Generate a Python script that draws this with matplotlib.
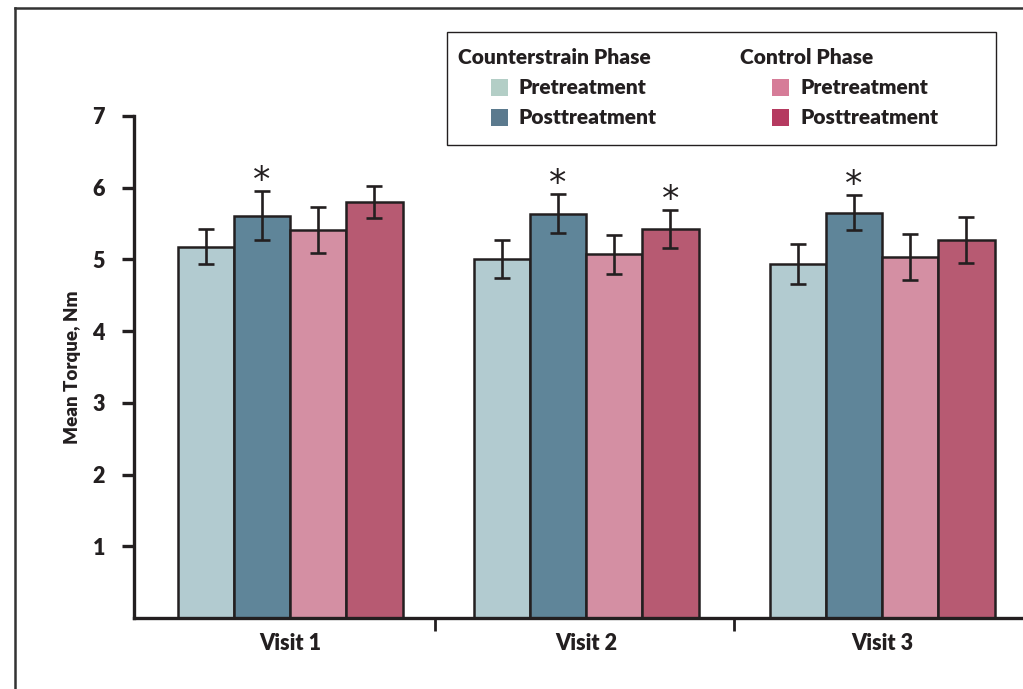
import numpy as np
import matplotlib
matplotlib.use("Agg")
import matplotlib.pyplot as plt
from matplotlib.patches import Rectangle
from matplotlib.lines import Line2D

plt.rcParams['font.family'] = ['Lato', 'DejaVu Sans']

visits = ["Visit 1", "Visit 2", "Visit 3"]
series = ["CS Pretreatment", "CS Posttreatment", "Control Pretreatment", "Control Posttreatment"]

cs_pre = [5.18, 5.01, 4.94]
cs_post = [5.61, 5.64, 5.65]
ctl_pre = [5.41, 5.07, 5.03]
ctl_post = [5.80, 5.43, 5.27]

cs_pre_err = [0.25, 0.265, 0.28]
cs_post_err = [0.345, 0.27, 0.245]
ctl_pre_err = [0.32, 0.27, 0.32]
ctl_post_err = [0.225, 0.265, 0.315]

# which bars carry a significance star
cs_post_sig = [True, True, True]
ctl_post_sig = [False, True, False]

bar_colors = ["#B2CBD0", "#5F8599", "#D48FA3", "#B75A72"]
key_colors = ["#B3CEC6", "#5B7A8E", "#D67C98", "#B53A60"]
ink = "#231F20"

W, H = 1023, 689
fig = plt.figure(figsize=(W / 100, H / 100), dpi=100)


def fx(px):
    return px / W


def fy(py):
    return 1 - py / H


ax = fig.add_axes([fx(134), fy(618), fx(1023) - fx(134), fy(116) - fy(618)])

x = np.arange(len(visits))
width = 0.19
means = [cs_pre, cs_post, ctl_pre, ctl_post]
errs = [cs_pre_err, cs_post_err, ctl_pre_err, ctl_post_err]
sigs = [None, cs_post_sig, None, ctl_post_sig]

for i, (m, e, c) in enumerate(zip(means, errs, bar_colors)):
    pos = x + (i - 1.5) * width
    ax.bar(pos, m, width, color=c, edgecolor=ink, linewidth=1.8, zorder=2)
    ax.errorbar(pos, m, yerr=e, fmt='none', ecolor=ink, elinewidth=1.9,
                capsize=5.8, capthick=1.9, zorder=3)
    if sigs[i] is not None:
        for p, v, err, s in zip(pos, m, e, sigs[i]):
            if s:
                ax.annotate("*", (p, v + err), xytext=(0, -5), textcoords="offset points",
                            ha="center", va="bottom", fontsize=25, color=ink,
                            family="DejaVu Sans")

ax.set_xlim(-0.527, 2.476)
ax.set_ylim(0, 7)
ax.set_yticks([1, 2, 3, 4, 5, 6, 7])
ax.set_xticks(x)
ax.set_xticklabels(visits, fontsize=15.5, fontweight="heavy", color=ink)
ax.set_xticks([0.49, 1.5], minor=True)
ax.tick_params(axis="x", which="major", length=0, pad=11)
ax.tick_params(axis="x", which="minor", length=9, width=2, direction="out", color=ink)
ax.tick_params(axis="y", length=9, width=2.4, color=ink, labelsize=15.5, pad=12, labelcolor=ink)
for lab in ax.get_yticklabels():
    lab.set_fontweight("heavy")
ax.set_ylabel("Mean Torque, Nm", fontsize=13.5, fontweight="heavy", color=ink, labelpad=8)

for side in ["top", "right"]:
    ax.spines[side].set_visible(False)
for side in ["left", "bottom"]:
    ax.spines[side].set_linewidth(2.4)
    ax.spines[side].set_color(ink)
ax.spines["left"].set_bounds(0, 7)

# outer frame lines
fig.add_artist(Line2D([fx(15), fx(1023)], [fy(8), fy(8)], color="#333333", lw=1.8))
fig.add_artist(Line2D([fx(15), fx(15)], [fy(8), fy(689)], color="#333333", lw=1.8))

# key box
fig.add_artist(Rectangle((fx(447), fy(145)), fx(996) - fx(447), fy(32) - fy(145),
                         transform=fig.transFigure, facecolor="white", edgecolor=ink, lw=1.0))
headers = [("Counterstrain Phase", 458), ("Control Phase", 740)]
for text, px in headers:
    fig.text(fx(px), fy(57), text, fontsize=15, fontweight="heavy", color=ink, va="center")
key_rows = [("Pretreatment", 88), ("Posttreatment", 118)]
for col, sx in enumerate([491, 772]):
    for row, (label, py) in enumerate(key_rows):
        fig.add_artist(Rectangle((fx(sx), fy(py + 8)), fx(17), 17 / H,
                                 transform=fig.transFigure,
                                 facecolor=key_colors[col * 2 + row], edgecolor="none"))
        fig.text(fx(sx + 28), fy(py), label, fontsize=15, fontweight="heavy",
                 color=ink, va="center")

fig.savefig("out.png", dpi=100)
